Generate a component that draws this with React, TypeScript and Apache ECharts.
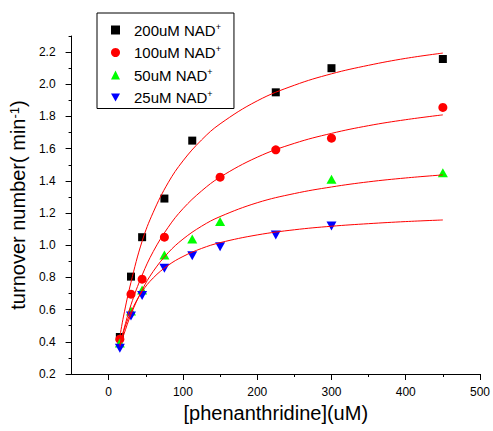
import React, { useEffect, useRef } from "react";
import * as echarts from "echarts";

// Measured data (x = phenanthridine uM, y = turnover number min^-1)
const CONC_200 = [15, 30, 45, 75, 112.5, 225, 300, 450];
const NAD_200 = [0.43, 0.805, 1.05, 1.29, 1.65, 1.95, 2.1, 2.157];
const CONC_100 = [15, 30, 45, 75, 150, 225, 300, 450];
const NAD_100 = [0.416, 0.696, 0.789, 1.05, 1.423, 1.593, 1.665, 1.856];
const CONC_50 = [15, 30, 45, 75, 112.5, 150, 300, 450];
const NAD_50 = [0.393, 0.592, 0.722, 0.94, 1.039, 1.147, 1.41, 1.451];
const CONC_25 = [15, 30, 45, 75, 112.5, 150, 225, 300];
const NAD_25 = [0.36, 0.561, 0.687, 0.857, 0.934, 0.991, 1.064, 1.12];

// Fitted curves
const FIT_X = [15, 20, 30, 45, 60, 80, 100, 125, 150, 200, 250, 300, 350, 400, 450];
const FIT_200 = [0.43, 0.56, 0.77, 1.025, 1.205, 1.388, 1.524, 1.654, 1.754, 1.897, 1.994, 2.065, 2.118, 2.161, 2.194];
const FIT_100 = [0.38, 0.47, 0.63, 0.814, 0.961, 1.111, 1.227, 1.337, 1.423, 1.547, 1.633, 1.695, 1.743, 1.78, 1.81];
const FIT_50 = [0.37, 0.44, 0.57, 0.722, 0.838, 0.953, 1.038, 1.118, 1.178, 1.264, 1.321, 1.362, 1.394, 1.418, 1.437];
const FIT_25 = [0.38, 0.464, 0.586, 0.712, 0.797, 0.875, 0.93, 0.98, 1.016, 1.064, 1.096, 1.118, 1.134, 1.147, 1.157];

const SERIES_NAMES = ["200uM NAD+", "100uM NAD+", "50uM NAD+", "25uM NAD+"];

const X_MAJOR = [0, 100, 200, 300, 400, 500];
const X_MINOR = [50, 150, 250, 350, 450];
const Y_MAJOR = [0.2, 0.4, 0.6, 0.8, 1.0, 1.2, 1.4, 1.6, 1.8, 2.0, 2.2];
const Y_MINOR = [0.3, 0.5, 0.7, 0.9, 1.1, 1.3, 1.5, 1.7, 1.9, 2.1, 2.3];

const FONT = 'Arial, "Liberation Sans", sans-serif';

const zip = (xs: number[], ys: number[]) => xs.map((x, i) => [x, ys[i]]);

export default function App() {
  const ref = useRef<HTMLDivElement>(null);
  useEffect(() => {
    if (!ref.current) return;
    const chart = echarts.init(ref.current, null, { renderer: "svg" });
    const scatter = (name: string, xs: number[], ys: number[], symbol: string, size: number | number[], color: string, rotate = 0) => ({
      type: "scatter",
      name,
      xAxisIndex: 0,
      yAxisIndex: 0,
      data: zip(xs, ys),
      symbol,
      symbolSize: size,
      symbolRotate: rotate,
      itemStyle: { color, opacity: 1 },
      z: 2,
    });
    const fit = (ys: number[]) => ({
      type: "line",
      xAxisIndex: 0,
      yAxisIndex: 0,
      data: zip(FIT_X, ys),
      smooth: 0.4,
      symbol: "none",
      showSymbol: false,
      lineStyle: { color: "#ff0000", width: 1 },
      silent: true,
      z: 3,
    });
    const axisText = { fontSize: 12, color: "#000", fontFamily: FONT };
    chart.setOption({
      animation: false,
      backgroundColor: "#ffffff",
      grid: { left: 68, right: 11, top: 36, bottom: 57 },
      legend: {
        orient: "vertical",
        left: 97,
        top: 13,
        padding: [9, 13, 3, 14],
        itemWidth: 9,
        itemHeight: 9,
        itemGap: 6.5,
        borderColor: "#000",
        borderWidth: 1,
        data: [
          { name: SERIES_NAMES[0], icon: "rect" },
          { name: SERIES_NAMES[1], icon: "circle" },
          { name: SERIES_NAMES[2], icon: "triangle" },
          { name: SERIES_NAMES[3], icon: "path://M0,0 L10,0 L5,9 Z" },
        ],
        formatter: (name: string) => name.replace("+", "") + "{sup|+}",
        textStyle: {
          fontSize: 15,
          lineHeight: 16,
          color: "#000",
          fontFamily: FONT,
          padding: [0, 0, 0, 9],
          rich: {
            sup: { fontSize: 9, lineHeight: 9, verticalAlign: "top", color: "#000", fontFamily: FONT },
          },
        },
      },
      xAxis: [
        {
          type: "value",
          min: -50,
          max: 500,
          position: "bottom",
          axisLine: { show: true, onZero: false, lineStyle: { color: "#000", width: 1 } },
          axisTick: { show: true, customValues: X_MAJOR, length: 6, lineStyle: { color: "#000" } },
          axisLabel: { customValues: X_MAJOR, margin: 12, ...axisText },
          splitLine: { show: false },
          name: "[phenanthridine](uM)",
          nameLocation: "middle",
          nameGap: 26,
          nameTextStyle: { fontSize: 20, color: "#000", fontFamily: FONT },
        },
        {
          type: "value",
          min: -50,
          max: 500,
          position: "bottom",
          axisLine: { show: false, onZero: false },
          axisTick: { show: true, customValues: X_MINOR, length: 3, lineStyle: { color: "#000" } },
          axisLabel: { show: false },
          splitLine: { show: false },
        },
      ],
      yAxis: [
        {
          type: "value",
          min: 0.2,
          max: 2.3,
          position: "left",
          axisLine: { show: true, onZero: false, lineStyle: { color: "#000", width: 1 } },
          axisTick: { show: true, customValues: Y_MAJOR, length: 6, lineStyle: { color: "#000" } },
          axisLabel: {
            customValues: Y_MAJOR,
            margin: 16,
            ...axisText,
            formatter: (v: number) => v.toFixed(1),
          },
          splitLine: { show: false },
          name: "turnover number( min{sup|-1})",
          nameLocation: "middle",
          nameGap: 29,
          nameTextStyle: {
            fontSize: 20,
            color: "#000",
            fontFamily: FONT,
            rich: {
              sup: { fontSize: 13, lineHeight: 13, verticalAlign: "top", color: "#000", fontFamily: FONT },
            },
          },
        },
        {
          type: "value",
          min: 0.2,
          max: 2.3,
          position: "left",
          axisLine: { show: false, onZero: false },
          axisTick: { show: true, customValues: Y_MINOR, length: 3, lineStyle: { color: "#000" } },
          axisLabel: { show: false },
          splitLine: { show: false },
        },
      ],
      series: [
        scatter(SERIES_NAMES[0], CONC_200, NAD_200, "rect", 8, "#000000"),
        scatter(SERIES_NAMES[1], CONC_100, NAD_100, "circle", 9, "#ff0000"),
        scatter(SERIES_NAMES[2], CONC_50, NAD_50, "triangle", [10, 9], "#00ff00"),
        scatter(SERIES_NAMES[3], CONC_25, NAD_25, "triangle", [10, 9], "#0000ff", 180),
        fit(FIT_200),
        fit(FIT_100),
        fit(FIT_50),
        fit(FIT_25),
      ],
    });
    return () => chart.dispose();
  }, []);
  return (
    <div
      ref={ref}
      style={{ position: "absolute", left: 0, top: 0, width: 493, height: 431, background: "#fff" }}
    />
  );
}
